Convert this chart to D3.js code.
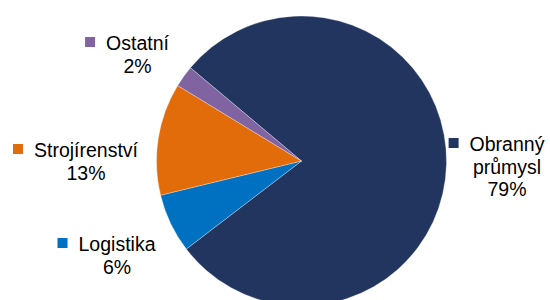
<!DOCTYPE html>
<html>
<head>
<meta charset="utf-8">
<script src="https://cdn.jsdelivr.net/npm/d3@7"></script>
<style>
  body { margin: 0; background: #fff; }
  text { font-family: "Liberation Sans", Arial, sans-serif; }
</style>
</head>
<body>
<div id="pie"></div>
<script>
// data, clockwise from the first slice
var categories = ["Obranný průmysl", "Logistika", "Strojírenství", "Ostatní"];
var shares = [78.5, 6.6, 12.5, 2.4];
var pctLabels = ["79%", "6%", "13%", "2%"];
var labelLines = [["Obranný", "průmysl"], ["Logistika"], ["Strojírenství"], ["Ostatní"]];

var colors = ["#22355f", "#0070c0", "#e36c0a", "#8064a2"];

var svgWidth = 550;
var svgHeight = 300;
var cx = 301.5, cy = 161, radius = 145;

// where each label block is centred (x) and the first baseline (y)
var labelPos = [
    {x: 507, y: 151},
    {x: 117, y: 251},
    {x: 86, y: 157},
    {x: 137.5, y: 50}
];

var svg = d3.select("#pie")
    .append("svg")
    .attr("width", svgWidth)
    .attr("height", svgHeight);

var pie = d3.pie()
    .sort(null)
    .startAngle(-50 * Math.PI / 180)
    .endAngle(310 * Math.PI / 180);

var arc = d3.arc().innerRadius(0).outerRadius(radius);

var pieGroup = svg.append("g")
    .attr("transform", `translate(${cx}, ${cy})`);

pieGroup.selectAll("path")
    .data(pie(shares))
    .enter()
    .append("path")
    .attr("d", arc)
    .attr("fill", (d, i) => colors[i])
    .attr("stroke", "#ffffff")
    .attr("stroke-opacity", 0.5)
    .attr("stroke-width", 0.6);

var fontSize = 19.5;
var lineH = 22.5;

var labels = svg.selectAll("g.lbl")
    .data(categories)
    .enter()
    .append("g")
    .attr("class", "lbl")
    .attr("transform", (d, i) => `translate(${labelPos[i].x}, ${labelPos[i].y})`);

labels.each(function(d, i) {
    var g = d3.select(this);
    var lines = labelLines[i].concat([pctLabels[i]]);
    var t = g.append("text")
        .attr("text-anchor", "middle")
        .attr("font-size", fontSize + "px")
        .attr("fill", "#000");
    lines.forEach((line, k) => {
        t.append("tspan")
            .attr("x", 0)
            .attr("y", k * lineH)
            .text(line);
    });
    // legend key square left of the first line
    var w = t.select("tspan").node().getComputedTextLength();
    g.append("rect")
        .attr("x", -w / 2 - 21)
        .attr("y", -13)
        .attr("width", 10)
        .attr("height", 10)
        .attr("fill", colors[i]);
});
</script>
</body>
</html>
